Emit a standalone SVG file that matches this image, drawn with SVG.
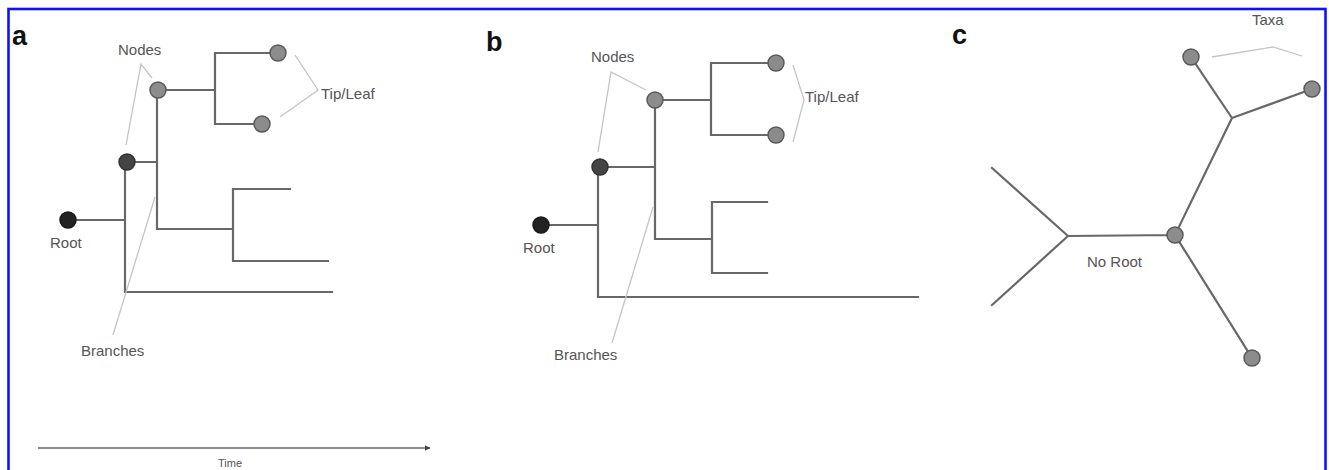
<svg xmlns="http://www.w3.org/2000/svg" width="1329" height="470" viewBox="0 0 1329 470">
<defs>
<style>
.br{stroke:#686868;stroke-width:2.2;fill:none;stroke-linecap:square}
.ld{stroke:#c4c4c4;stroke-width:1.3;fill:none}
.lbl{font-family:"Liberation Sans",Arial,sans-serif;font-size:15px;fill:#555}
.pan{font-family:"Liberation Sans",Arial,sans-serif;font-size:27px;font-weight:bold;fill:#111}
.g{fill:#8c8c8c;stroke:#5a5a5a;stroke-width:1.5}
.d{fill:#444;stroke:#333;stroke-width:1.5}
.r{fill:#222;stroke:#1a1a1a;stroke-width:1.5}
</style>
<marker id="ah" viewBox="0 0 10 10" refX="9" refY="5" markerWidth="6" markerHeight="6" orient="auto" markerUnits="userSpaceOnUse">
<path d="M0,0 L10,5 L0,10 z" fill="#444"/>
</marker>
</defs>
<rect width="1329" height="470" fill="#fff"/>
<rect x="8.5" y="9" width="1317" height="480" fill="none" stroke="#1010ff" stroke-width="2.6"/>

<g id="connectors">
<!-- panel a -->
<path class="br" d="M68,220 H125 M125,162 V292 H332 M127,162 H157 M157,90 V229 H233 M233,189 V261 M233,189 H290 M233,261 H328 M158,90 H215 M215,53 V124 M215,53 H278 M215,124 H262"/>
<!-- panel b -->
<path class="br" d="M541,225 H598 M598,167 V297 H918 M600,167 H655 M655,100 V239 H712 M712,202 V273 M712,202 H767 M712,273 H767 M655,100 H711 M711,63 V135 M711,63 H776 M711,135 H776"/>
<!-- panel c -->
<path class="br" d="M1191,57 L1232,118 L1312,89 M1232,118 L1175,235 L1068,236 M1068,236 L992,168 M1068,236 L992,305 M1175,235 L1252,358"/>
<!-- leader lines -->
<path class="ld" d="M126,145 L141,64 L152,78 M295,55 L318,90 L280,117 M155,197 L113,335"/>
<path class="ld" d="M598,152 L611,72 L646,90 M793,65 L804,100 L793,142 M653,207 L612,343"/>
<path class="ld" d="M1212,57 L1273,47 L1302,56"/>
<!-- time axis -->
<line x1="38" y1="448" x2="430" y2="448" stroke="#666" stroke-width="1.3" marker-end="url(#ah)"/>
</g>

<g id="panel-a">
<text class="pan" x="12" y="45">a</text>
<g id="a-root"><circle class="r" cx="68" cy="220" r="8"/><text class="lbl" x="50" y="248">Root</text></g>
<g id="a-node1"><circle class="d" cx="127" cy="162" r="8"/></g>
<g id="a-node2"><circle class="g" cx="158" cy="90" r="8"/></g>
<g id="a-tip1"><circle class="g" cx="278" cy="53" r="8"/></g>
<g id="a-tip2"><circle class="g" cx="262" cy="124" r="8"/></g>
<text class="lbl" x="118" y="55">Nodes</text>
<text class="lbl" x="321" y="99">Tip/Leaf</text>
<text class="lbl" x="81" y="356">Branches</text>
<text class="lbl" x="230" y="467" text-anchor="middle" style="font-size:11px">Time</text>
</g>

<g id="panel-b">
<text class="pan" x="486" y="51">b</text>
<g id="b-root"><circle class="r" cx="541" cy="225" r="8"/><text class="lbl" x="523" y="253">Root</text></g>
<g id="b-node1"><circle class="d" cx="600" cy="167" r="8"/></g>
<g id="b-node2"><circle class="g" cx="655" cy="100" r="8"/></g>
<g id="b-tip1"><circle class="g" cx="776" cy="63" r="8"/></g>
<g id="b-tip2"><circle class="g" cx="776" cy="135" r="8"/></g>
<text class="lbl" x="591" y="62">Nodes</text>
<text class="lbl" x="805" y="102">Tip/Leaf</text>
<text class="lbl" x="554" y="360">Branches</text>
</g>

<g id="panel-c">
<text class="pan" x="952" y="44">c</text>
<g id="c-tip1"><circle class="g" cx="1191" cy="57" r="8"/></g>
<g id="c-tip2"><circle class="g" cx="1312" cy="89" r="8"/></g>
<g id="c-center"><circle class="g" cx="1175" cy="235" r="8"/></g>
<g id="c-tip3"><circle class="g" cx="1252" cy="358" r="8"/></g>
<text class="lbl" x="1252" y="25">Taxa</text>
<text class="lbl" x="1087" y="267">No Root</text>
</g>
</svg>
